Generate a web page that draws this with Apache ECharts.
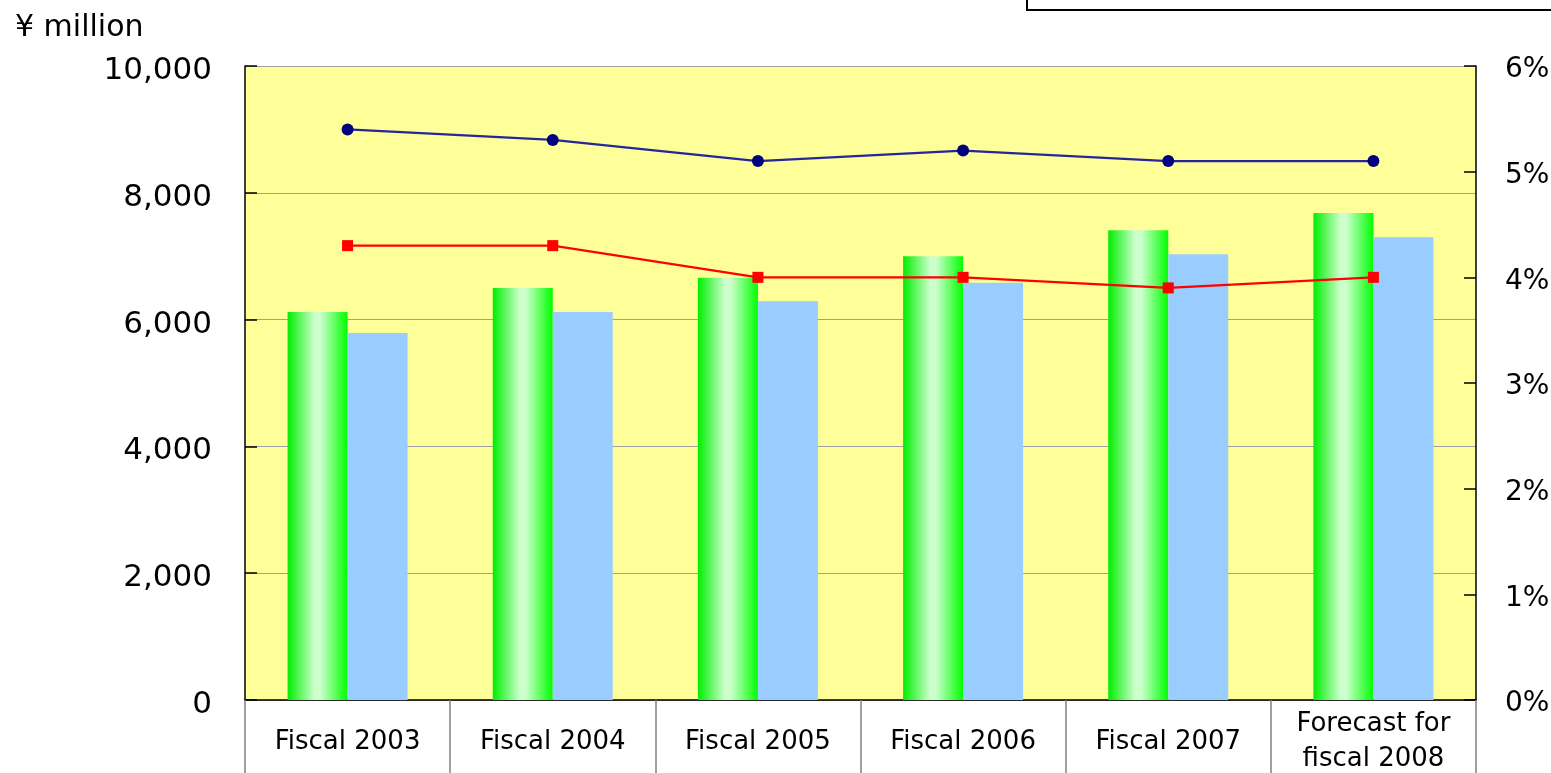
<!DOCTYPE html>
<html>
<head>
<meta charset="utf-8">
<script src="https://cdn.jsdelivr.net/npm/echarts@6/dist/echarts.min.js"></script>
<style>html,body{margin:0;padding:0;background:#fff;}#c{width:1551px;height:773px;}</style>
</head>
<body>
<div id="c"></div>
<script>
var categories = ['Fiscal 2003', 'Fiscal 2004', 'Fiscal 2005', 'Fiscal 2006', 'Fiscal 2007', 'Forecast for\nfiscal 2008'];
var greenBars = [6120, 6500, 6660, 7000, 7410, 7680];
var blueBars = [5790, 6120, 6290, 6580, 7030, 7300];
var blueLinePct = [5.4, 5.3, 5.1, 5.2, 5.1, 5.1];
var redLinePct = [4.3, 4.3, 4.0, 4.0, 3.9, 4.0];
var leftTicks = { min: 0, max: 10000, interval: 2000 };
var rightTicks = { min: 0, max: 6, interval: 1 };

var FONT = 'DejaVu Sans';
var chart = echarts.init(document.getElementById('c'), null, { renderer: 'canvas' });
chart.setOption({
  animation: false,
  backgroundColor: '#ffffff',
  grid: { left: 245, right: 75, top: 66, bottom: 73, show: true, backgroundColor: '#ffff99', borderWidth: 0,
    containLabel: false, outerBoundsMode: 'none' },
  graphic: [
    { type: 'rect', shape: { x: 1027, y: -40, width: 600, height: 50 }, style: { fill: '#ffffff', stroke: '#000000', lineWidth: 2 } },
    { type: 'text', left: 15, top: 13, style: { text: '¥ million', font: '30px "' + FONT + '"', fill: '#000' } }
  ],
  xAxis: {
    type: 'category',
    data: categories,
    boundaryGap: true,
    axisLine: { show: true, lineStyle: { color: '#000', width: 1.5 } },
    axisTick: { show: true, length: 73, inside: false, lineStyle: { color: '#808080', width: 1.5 } },
    axisLabel: { interval: 0, margin: 42, verticalAlign: 'middle', fontFamily: FONT, fontSize: 26, color: '#000', lineHeight: 35 },
    splitLine: { show: false }
  },
  yAxis: [
    {
      type: 'value', min: leftTicks.min, max: leftTicks.max, interval: leftTicks.interval, position: 'left',
      axisLine: { show: true, lineStyle: { color: '#000', width: 1.5 } },
      axisTick: { show: true, inside: true, length: 12, lineStyle: { color: '#000', width: 1.5 } },
      axisLabel: { margin: 33, fontFamily: FONT, fontSize: 31, color: '#000', verticalAlign: 'top', lineHeight: 10,
        formatter: function (v) { return v.toLocaleString('en-US'); } },
      splitLine: { show: true, lineStyle: { color: '#a0a0a0', width: 1.2 } }
    },
    {
      type: 'value', min: rightTicks.min, max: rightTicks.max, interval: rightTicks.interval, position: 'right',
      axisLine: { show: true, lineStyle: { color: '#000', width: 1.5 } },
      axisTick: { show: true, inside: true, length: 12, lineStyle: { color: '#000', width: 1.5 } },
      axisLabel: { margin: 29, fontFamily: FONT, fontSize: 28, color: '#000', verticalAlign: 'top', lineHeight: 8, formatter: '{value}%' },
      splitLine: { show: false }
    }
  ],
  series: [
    {
      type: 'bar', data: greenBars, yAxisIndex: 0, barWidth: 60, barGap: '0%',
      itemStyle: { color: new echarts.graphic.LinearGradient(0, 0, 1, 0, [
        { offset: 0, color: '#00ee00' }, { offset: 0.45, color: '#ccffcc' },
        { offset: 0.55, color: '#ccffcc' }, { offset: 1, color: '#00ff00' }]) }
    },
    {
      type: 'bar', data: blueBars, yAxisIndex: 0, barWidth: 60, barGap: '0%',
      itemStyle: { color: '#99ccff' }
    },
    {
      type: 'line', data: blueLinePct, yAxisIndex: 1, symbol: 'circle', symbolSize: 12,
      lineStyle: { color: '#262699', width: 2.2 }, itemStyle: { color: '#000080' }, z: 5
    },
    {
      type: 'line', data: redLinePct, yAxisIndex: 1, symbol: 'rect', symbolSize: 11,
      lineStyle: { color: '#ff0000', width: 2.2 }, itemStyle: { color: '#ff0000' }, z: 5
    }
  ]
});
</script>
</body>
</html>
